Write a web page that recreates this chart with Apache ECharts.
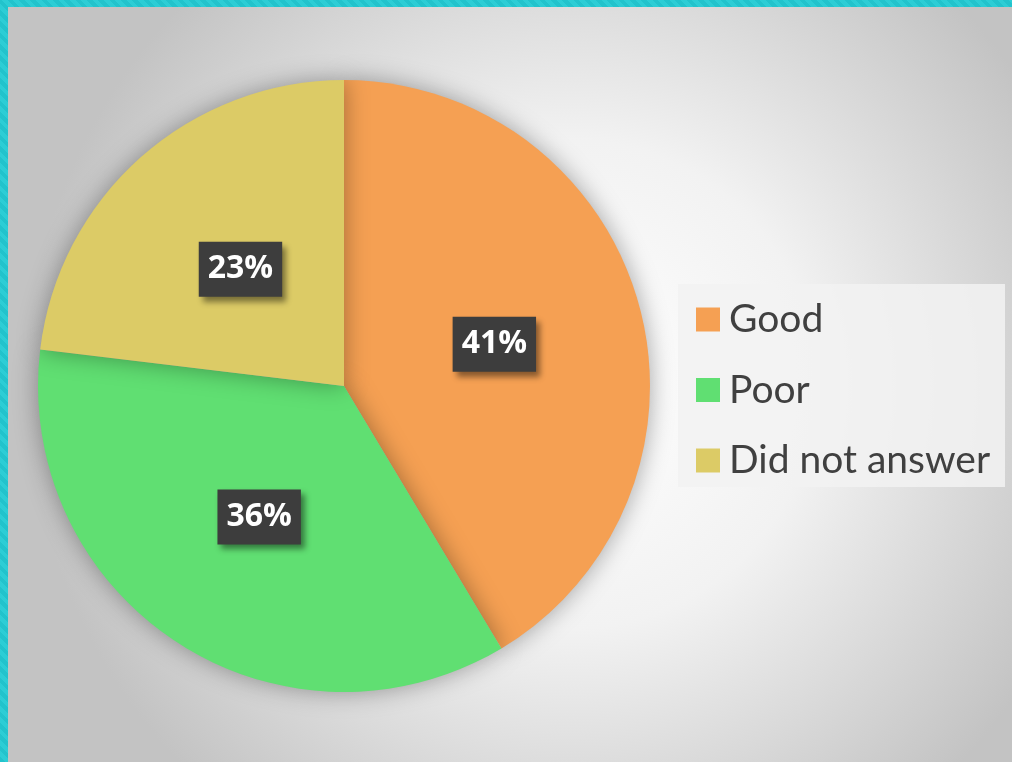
<!DOCTYPE html>
<html><head><meta charset="utf-8">
<script src="https://cdn.jsdelivr.net/npm/echarts@6/dist/echarts.min.js"></script>
<style>
html,body{margin:0;padding:0;width:1012px;height:762px;overflow:hidden;}
body{background:repeating-linear-gradient(45deg,#22c3cc 0px,#22c3cc 4px,#2ccdd5 4px,#2ccdd5 8px);}
#c{position:absolute;left:8px;top:7px;width:1004px;height:755px;box-shadow:inset 1px 1px 0 #d6d6d6;}
</style></head>
<body><div id="c"></div>
<script>
const categories = ['Good', 'Poor', 'Did not answer'];
const values = [41.4, 35.5, 23.1];
const colors = ['#f5a053', '#60df72', '#dccb66'];

const chart = echarts.init(document.getElementById('c'));
const ox = 8, oy = 7;
chart.setOption({
  backgroundColor: {
    type: 'radial', x: 0.56, y: 0.5, r: 0.72,
    colorStops: [{offset: 0, color: '#ffffff'}, {offset: 0.45, color: '#f2f2f2'}, {offset: 1, color: '#c3c3c3'}]
  },
  animation: false,
  graphic: [{
    type: 'rect', left: 678 - ox, top: 284 - oy, z: 0,
    shape: {width: 327, height: 203},
    style: {fill: 'rgba(242,242,242,0.85)'}
  }],
  legend: {
    orient: 'vertical', left: 696 - ox, top: 300 - oy, padding: 0,
    itemWidth: 24, itemHeight: 24, itemGap: 31.5, icon: 'rect',
    textStyle: {fontFamily: 'Lato', fontSize: 39, lineHeight: 36, color: '#404040', padding: [0, 0, 0, 4]},
    data: categories
  },
  series: [{
    type: 'pie', center: [344 - ox, 386 - oy], radius: 306,
    startAngle: 90, clockwise: true, percentPrecision: 0,
    itemStyle: {shadowBlur: 24, shadowColor: 'rgba(0,0,0,0.35)'},
    label: {
      position: 'inside', formatter: '{d}%',
      fontFamily: 'Open Sans', fontWeight: 'bold', fontSize: 32, color: '#ffffff',
      backgroundColor: '#3d3d3d', padding: [12, 9, 11, 9],
      shadowColor: 'rgba(0,0,0,0.45)', shadowBlur: 6, shadowOffsetX: 4, shadowOffsetY: 5
    },
    labelLine: {show: false},
    emphasis: {disabled: true},
    data: categories.map((n, i) => ({name: n, value: values[i], itemStyle: {color: colors[i]}}))
  }]
});
</script></body></html>
